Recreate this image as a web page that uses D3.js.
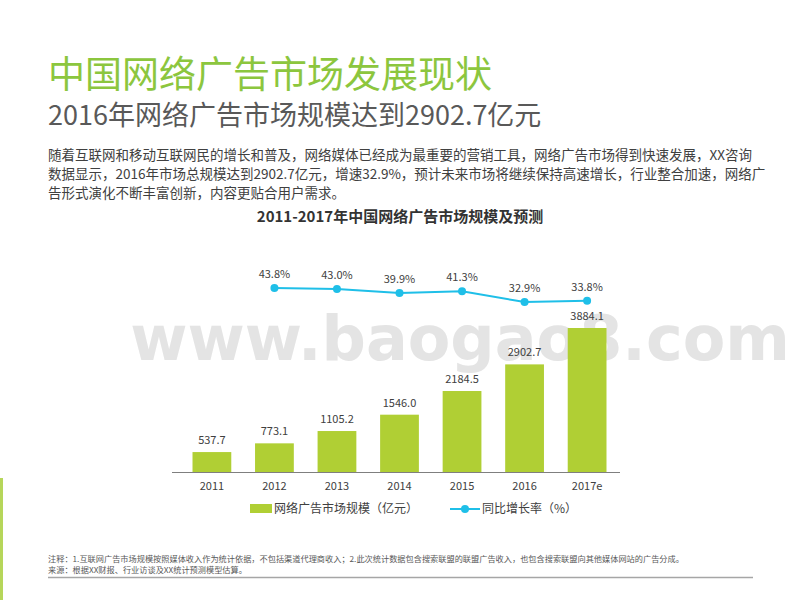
<!DOCTYPE html>
<html><head><meta charset="utf-8">
<script src="https://cdn.jsdelivr.net/npm/d3@7"></script>
<style>body{margin:0;background:#fff;font-family:"Noto Sans CJK SC",sans-serif}</style>
</head><body><svg width="800" height="600"></svg>
<script>
const years = ['2011', '2012', '2013', '2014', '2015', '2016', '2017e'];
const sizes = [537.7, 773.1, 1105.2, 1546.0, 2184.5, 2902.7, 3884.1];
const growth = [null, 43.8, 43.0, 39.9, 41.3, 32.9, 33.8];

const svg = d3.select('svg');
const font = '"Noto Sans CJK SC", sans-serif';

// watermark, behind the chart
svg.append('text').attr('x', 460).attr('y', 360).attr('text-anchor', 'middle').attr('font-size', 62)
  .attr('font-weight', 'bold').attr('fill', '#e4e4e4')
  .attr('font-family', 'DejaVu Sans, sans-serif').text('www.baogao8.com');

svg.append('rect').attr('x', 0).attr('y', 478).attr('width', 3).attr('height', 122).attr('fill', '#b6d65a');

svg.append('text').attr('x', 48).attr('y', 88).attr('font-size', 37).attr('fill', '#8cc63e')
  .attr('font-family', font).text('中国网络广告市场发展现状');
svg.append('text').attr('x', 48).attr('y', 125).attr('font-size', 27).attr('fill', '#595959')
  .attr('font-family', font).text('2016年网络广告市场规模达到2902.7亿元');

const para = [
  '随着互联网和移动互联网民的增长和普及，网络媒体已经成为最重要的营销工具，网络广告市场得到快速发展，XX咨询',
  '数据显示，2016年市场总规模达到2902.7亿元，增速32.9%，预计未来市场将继续保持高速增长，行业整合加速，网络广',
  '告形式演化不断丰富创新，内容更贴合用户需求。'
];
svg.append('g').selectAll('text').data(para).join('text')
  .attr('x', 48).attr('y', (d, i) => 160 + i * 19).attr('font-size', 13.5).attr('fill', '#404040')
  .attr('font-family', font).text(d => d);

svg.append('text').attr('x', 400).attr('y', 222).attr('text-anchor', 'middle').attr('font-size', 15)
  .attr('font-weight', 'bold').attr('fill', '#333').attr('font-family', font)
  .text('2011-2017年中国网络广告市场规模及预测');

const x = d3.scaleBand().domain(years).range([180, 619]).paddingInner(0.38).paddingOuter(0.2);
const y = d3.scaleLinear().domain([0, 3884.1]).range([472, 328]);
const y2 = d3.scaleLinear().domain([32.9, 43.8]).range([302, 288]);

svg.append('g').selectAll('rect').data(sizes).join('rect')
  .attr('x', (d, i) => x(years[i])).attr('width', x.bandwidth())
  .attr('y', d => y(d)).attr('height', d => y(0) - y(d)).attr('fill', '#b0cf34');

svg.append('g').selectAll('text').data(sizes).join('text')
  .attr('x', (d, i) => x(years[i]) + x.bandwidth() / 2).attr('y', d => y(d) - 8)
  .attr('text-anchor', 'middle').attr('font-size', 11).attr('fill', '#404040').attr('font-family', font)
  .text(d => d.toFixed(1));

const xAxis = svg.append('g').attr('transform', 'translate(0,472)')
  .call(d3.axisBottom(x).tickSize(0).tickPadding(10));
xAxis.select('.domain').attr('stroke', '#7f7f7f').attr('d', 'M172,0.5H620');
xAxis.selectAll('text').attr('font-size', 11).attr('fill', '#404040').attr('font-family', font);

const pts = growth.map((g, i) => ({ g, yr: years[i] })).filter(d => d.g !== null);
const cx = d => x(d.yr) + x.bandwidth() / 2;
svg.append('path').datum(pts)
  .attr('d', d3.line().x(cx).y(d => y2(d.g)))
  .attr('fill', 'none').attr('stroke', '#1fbfe8').attr('stroke-width', 2);
svg.append('g').selectAll('circle').data(pts).join('circle')
  .attr('cx', cx).attr('cy', d => y2(d.g)).attr('r', 4).attr('fill', '#1fbfe8');
svg.append('g').selectAll('text').data(pts).join('text')
  .attr('x', cx).attr('y', d => y2(d.g) - 10).attr('text-anchor', 'middle').attr('font-size', 11)
  .attr('fill', '#404040').attr('font-family', font).text(d => d.g.toFixed(1) + '%');

// legend
const lg = svg.append('g').attr('transform', 'translate(0,509)');
lg.append('rect').attr('x', 250).attr('y', -5).attr('width', 22).attr('height', 9).attr('fill', '#b0cf34');
lg.append('text').attr('x', 274).attr('y', 4).attr('font-size', 12).attr('fill', '#404040')
  .attr('font-family', font).text('网络广告市场规模（亿元）');
lg.append('line').attr('x1', 450).attr('x2', 480).attr('y1', 0).attr('y2', 0)
  .attr('stroke', '#1fbfe8').attr('stroke-width', 2);
lg.append('circle').attr('cx', 465).attr('cy', 0).attr('r', 4).attr('fill', '#1fbfe8');
lg.append('text').attr('x', 482).attr('y', 4).attr('font-size', 12).attr('fill', '#404040')
  .attr('font-family', font).text('同比增长率（%）');

// notes
const notes = [
  '注释：1.互联网广告市场规模按照媒体收入作为统计依据，不包括渠道代理商收入；2.此次统计数据包含搜索联盟的联盟广告收入，也包含搜索联盟向其他媒体网站的广告分成。',
  '来源：根据XX财报、行业访谈及XX统计预测模型估算。'
];
svg.append('g').selectAll('text').data(notes).join('text')
  .attr('x', 48).attr('y', (d, i) => 562 + i * 11).attr('font-size', 8.2).attr('fill', '#595959')
  .attr('font-family', font).text(d => d);
svg.append('line').attr('x1', 48).attr('x2', 753).attr('y1', 577.5).attr('y2', 577.5)
  .attr('stroke', '#a6a6a6').attr('stroke-width', 1.5);
</script></body></html>
